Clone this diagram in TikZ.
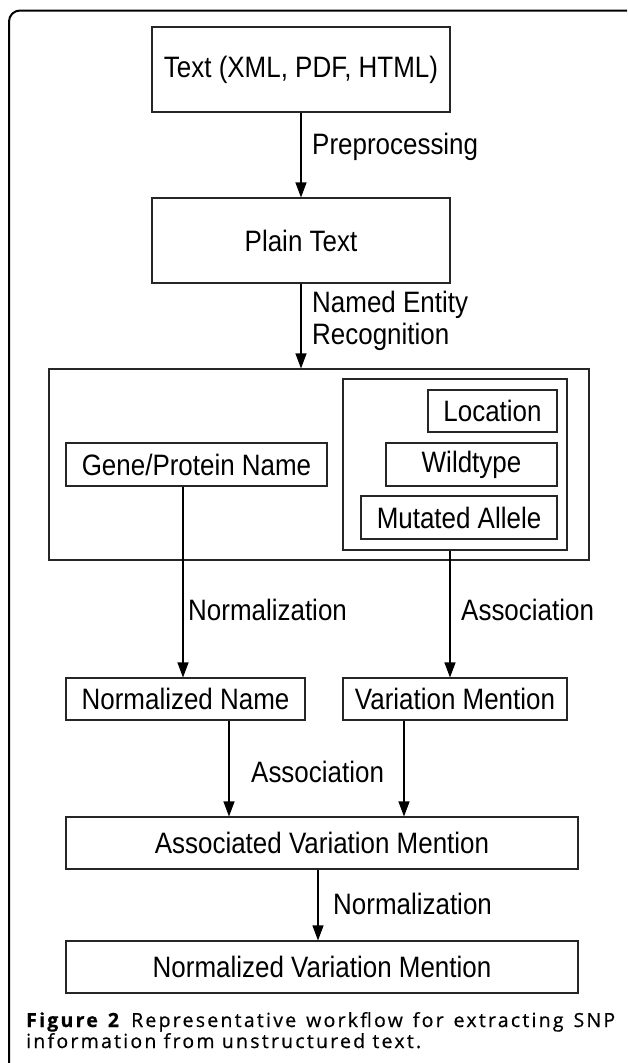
\documentclass[tikz,border=0pt]{standalone}
\usepackage{fontspec}
\setmainfont{Liberation Sans}[FakeStretch=0.88]
\newfontfamily\capfont{Open Sans}[LetterSpace=11.5,FakeBold=0.6]
\usetikzlibrary{arrows.meta}
\begin{document}
\begin{tikzpicture}[x=1pt,y=-1pt,
  box/.style={draw=black!85,line width=1.1pt,inner sep=0pt,
    font=\fontsize{29.5}{33}\selectfont},
  lbl/.style={anchor=west,inner sep=0pt,align=left,
    font=\fontsize{29.5}{32}\selectfont},
  capt/.style={anchor=base west,inner sep=0pt,
    font=\capfont\fontsize{19.5}{21}\selectfont},
  arr/.style={line width=1.1pt,-{Triangle[length=15pt,width=11pt]}}]
\useasboundingbox (0,0) rectangle (627,1063);
\clip (0,0) rectangle (627,1063);
% outer frame
\draw[line width=2pt,rounded corners=11pt] (9,1075) -- (9,10.5) -- (640,10.5);
% boxes
\node[box,minimum width=298pt,minimum height=85pt] (txt) at (301,69.5) {Text (XML, PDF, HTML)};
\node[box,minimum width=298pt,minimum height=85pt] (plain) at (301,240.5) {Plain Text};
\node[box,minimum width=540pt,minimum height=191pt] (ner) at (319,464.5) {};
\node[box,minimum width=224pt,minimum height=171pt] (inner) at (455,464.5) {};
\node[box,minimum width=129pt,minimum height=42pt] (loc) at (492.5,411) {Location};
\node[box,minimum width=171pt,minimum height=43pt] (wild) at (471.5,464.5) {Wildtype};
\node[box,minimum width=196pt,minimum height=43pt] (mut) at (459,517.5) {Mutated Allele};
\node[box,minimum width=261pt,minimum height=43pt] (gene) at (196.5,464.5) {Gene/Protein Name};
\node[box,minimum width=239pt,minimum height=42pt] (nn) at (185.5,699) {Normalized Name};
\node[box,minimum width=224pt,minimum height=42pt] (vm) at (455,699) {Variation Mention};
\node[box,minimum width=512pt,minimum height=52pt] (avm) at (322,843) {Associated Variation Mention};
\node[box,minimum width=512pt,minimum height=52pt] (nvm) at (322,967) {Normalized Variation Mention};
% arrow columns
\coordinate (cA) at (301,0);
\coordinate (cB) at (183,0);
\coordinate (cC) at (450,0);
\coordinate (cD) at (229,0);
\coordinate (cE) at (404,0);
\coordinate (cF) at (318,0);
\draw[arr] (cA |- txt.south) -- (cA |- plain.north);
\draw[arr] (cA |- plain.south) -- (cA |- ner.north);
\draw[arr] (cB |- gene.south) -- (cB |- nn.north);
\draw[arr] (cC |- inner.south) -- (cC |- vm.north);
\draw[arr] (cD |- nn.south) -- (cD |- avm.north);
\draw[arr] (cE |- vm.south) -- (cE |- avm.north);
\draw[arr] (cF |- avm.south) -- (cF |- nvm.north);
% labels
\node[lbl] (l1) at (312,147) {Preprocessing};
\node[lbl] (l2) at (312,321) {Named Entity\\Recognition};
\node[lbl] (l3) at (188,610) {Normalization};
\node[lbl] (l4) at (461,610) {Association};
\node[lbl] (l5) at (251,772) {Association};
\node[lbl] (l6) at (333,904) {Normalization};
% caption
\node[capt] (cap1) at (26,1027)
  {\makebox[589pt][s]{\textbf{Figure 2} Representative workflow for extracting SNP}};
\node[capt] (cap2) at (26,1048) {information from unstructured text.};
\end{tikzpicture}
\end{document}
